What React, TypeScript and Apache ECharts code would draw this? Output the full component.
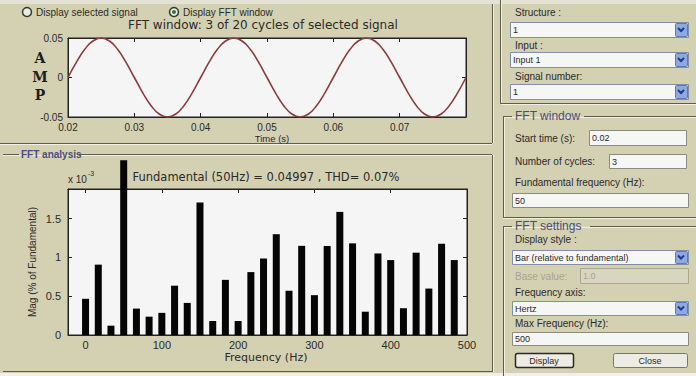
import React, { useEffect, useRef } from "react";
import * as echarts from "echarts";

// Time-domain signal (FFT window)
const timeS = [
  0.02, 0.02125, 0.0225, 0.02375, 0.025, 0.02625, 0.0275, 0.02875,
  0.03, 0.03125, 0.0325, 0.03375, 0.035, 0.03625, 0.0375, 0.03875,
  0.04, 0.04125, 0.0425, 0.04375, 0.045, 0.04625, 0.0475, 0.04875,
  0.05, 0.05125, 0.0525, 0.05375, 0.055, 0.05625, 0.0575, 0.05875,
  0.06, 0.06125, 0.0625, 0.06375, 0.065, 0.06625, 0.0675, 0.06875,
  0.07, 0.07125, 0.0725, 0.07375, 0.075, 0.07625, 0.0775, 0.07875, 0.08,
];
const ampValues = [
  0, 0.0191, 0.0354, 0.0462, 0.05, 0.0462, 0.0354, 0.0191,
  0, -0.0191, -0.0354, -0.0462, -0.05, -0.0462, -0.0354, -0.0191,
  0, 0.0191, 0.0354, 0.0462, 0.05, 0.0462, 0.0354, 0.0191,
  0, -0.0191, -0.0354, -0.0462, -0.05, -0.0462, -0.0354, -0.0191,
  0, 0.0191, 0.0354, 0.0462, 0.05, 0.0462, 0.0354, 0.0191,
  0, -0.0191, -0.0354, -0.0462, -0.05, -0.0462, -0.0354, -0.0191, 0,
];

// FFT spectrum bins (Hz) and magnitudes (x 10^-3, % of fundamental)
const freqHz = [
  0, 16.7, 33.3, 50, 66.7, 83.3, 100, 116.7, 133.3, 150,
  166.7, 183.3, 200, 216.7, 233.3, 250, 266.7, 283.3, 300, 316.7,
  333.3, 350, 366.7, 383.3, 400, 416.7, 433.3, 450, 466.7, 483.3,
];
const magPct = [
  0.466, 0.906, 0.12, 2.25, 0.34, 0.236, 0.285, 0.635, 0.413, 1.707,
  0.18, 0.71, 0.18, 0.81, 0.985, 1.298, 0.57, 1.148, 0.513, 1.146,
  1.585, 1.18, 0.3, 1.05, 0.965, 0.345, 1.06, 0.598, 1.175, 0.965,
];

const timeTicks = [0.02, 0.03, 0.04, 0.05, 0.06, 0.07];
const freqTicks = [0, 100, 200, 300, 400, 500];

const FONT = '"Liberation Sans", Arial, sans-serif';
const WIDE = '"DejaVu Sans", Verdana, sans-serif';
const BG = "#d4d1b3";
const DARK = "#5e5c4c";
const LIGHT = "#f2f0e4";

function txt(x: number, y: number, text: string, o: any = {}) {
  return {
    type: "text",
    x,
    y,
    rotation: o.rotation || 0,
    z: 10,
    style: {
      text,
      fill: o.fill || "#2a2a2a",
      font: o.font || `10px ${FONT}`,
      textAlign: o.align || "left",
      align: o.align || "left",
      textVerticalAlign: "middle",
      verticalAlign: "middle",
    },
  };
}
function hline(x1: number, x2: number, y: number, c = DARK) {
  return { type: "line", z: 5, shape: { x1, y1: y, x2, y2: y }, style: { stroke: c, lineWidth: 1 } };
}
function vline(x: number, y1: number, y2: number, c = DARK) {
  return { type: "line", z: 5, shape: { x1: x, y1, x2: x, y2 }, style: { stroke: c, lineWidth: 1 } };
}
function box(x: number, y: number, w: number, h: number, fill = "#f5f5f3", stroke = "#8f8f86", r = 0, lw = 1) {
  return { type: "rect", z: 5, shape: { x: x + 0.5, y: y + 0.5, width: w, height: h, r }, style: { fill, stroke, lineWidth: lw } };
}
function dropdown(x: number, y: number, w: number, h: number, label: string) {
  return [
    box(x, y, w, h, "#f6f6f4", "#7f8fa6"),
    txt(x + 3, y + h / 2 + 0.5, label, { font: `9px ${FONT}` }),
    box(x + w - 13, y + 1, 12, h - 2, "#8fa8e0", "#5d78bd", 1),
    {
      type: "polyline",
      z: 6,
      shape: { points: [[x + w - 10, y + h / 2 - 1.5], [x + w - 7, y + h / 2 + 1.5], [x + w - 4, y + h / 2 - 1.5]] },
      style: { stroke: "#1d3a8a", lineWidth: 2, fill: "none" },
    },
  ];
}
function textbox(x: number, y: number, w: number, h: number, label: string, grey = false) {
  return [
    box(x, y, w, h, grey ? "#d9d6c0" : "#f6f6f4", grey ? "#a9a793" : "#8a8a84"),
    txt(x + 3, y + h / 2 + 0.5, label, { font: `9px ${FONT}`, fill: grey ? "#a6a48f" : "#2a2a2a" }),
  ];
}

export default function App() {
  const ref = useRef<HTMLDivElement>(null);
  useEffect(() => {
    if (!ref.current) return;
    const chart = echarts.init(ref.current, undefined, { renderer: "svg" });
    const lineData = timeS.map((t, i) => [t, ampValues[i]]);
    const barData = freqHz.map((f, i) => [f, magPct[i]]);
    const axisLab = { fontSize: 11, color: "#2a2a2a", fontFamily: FONT };
    const tickIn = { show: true, inside: true, length: 4, lineStyle: { color: "#222" } };
    const axLine = { show: true, onZero: false, lineStyle: { color: "#222" } };

    const graphics: any[] = [
      // light strips top / bottom
      { type: "rect", z: 1, shape: { x: 0, y: 0, width: 696, height: 4 }, style: { fill: "#e4e2d4" } },
      { type: "rect", z: 1, shape: { x: 0, y: 373, width: 696, height: 3 }, style: { fill: "#f0efe8" } },
      // top panel frame
      hline(0, 492, 143.5),
      hline(0, 492, 144.5, LIGHT),
      vline(492.5, 4, 143),
      vline(493.5, 4, 143, LIGHT),
      // FFT analysis group box
      hline(3, 19, 154.5),
      hline(79, 492, 154.5),
      hline(3, 492, 155.5, LIGHT),
      vline(492.5, 155, 372),
      vline(493.5, 155, 372, LIGHT),
      hline(3, 492, 371.5),
      txt(21, 154, "FFT analysis", { font: `bold 10px ${FONT}`, fill: "#4a4d7c" }),
      // radio buttons
      { type: "circle", z: 6, shape: { cx: 27, cy: 12, r: 4.5 }, style: { fill: "#ecebe6", stroke: "#2f3a2f", lineWidth: 1.5 } },
      txt(36, 12, "Display selected signal", { font: `10px ${FONT}` }),
      { type: "circle", z: 6, shape: { cx: 174, cy: 12, r: 4.5 }, style: { fill: "#ecebe6", stroke: "#2f3a2f", lineWidth: 1.5 } },
      { type: "circle", z: 7, shape: { cx: 174, cy: 12, r: 2 }, style: { fill: "#2d7a3a" } },
      txt(183, 12, "Display FFT window", { font: `10px ${FONT}` }),
      // titles & axis names
      txt(263, 25, "FFT window: 3 of 20 cycles of selected signal", { align: "center", font: `12px ${WIDE}` }),
      txt(272, 138, "Time (s)", { align: "center", font: `9.5px ${FONT}` }),
      txt(40, 58, "A", { align: "center", font: `bold 14px "DejaVu Serif", serif`, fill: "#1e1e1e" }),
      txt(40, 77, "M", { align: "center", font: `bold 14px "DejaVu Serif", serif`, fill: "#1e1e1e" }),
      txt(40, 95, "P", { align: "center", font: `bold 14px "DejaVu Serif", serif`, fill: "#1e1e1e" }),
      txt(266, 177, "Fundamental (50Hz) = 0.04997 , THD= 0.07%", { align: "center", font: `11.5px ${WIDE}` }),
      txt(68, 179, "x 10", { font: `10px ${FONT}` }),
      txt(88, 173, "-3", { font: `7px ${FONT}` }),
      txt(266, 357, "Frequency (Hz)", { align: "center", font: `11px ${WIDE}` }),
      txt(32, 262, "Mag (% of Fundamental)", { align: "center", font: `10px ${FONT}`, rotation: Math.PI / 2 }),
      // right panel: signal selection
      vline(500.5, 0, 103),
      vline(501.5, 0, 103, LIGHT),
      hline(500, 696, 103.5),
      hline(501, 696, 104.5, LIGHT),
      txt(515, 12, "Structure :"),
      ...dropdown(510, 22, 178, 15, "1"),
      txt(515, 45, "Input :"),
      ...dropdown(510, 52, 178, 15, "Input 1"),
      txt(515, 76, "Signal number:"),
      ...dropdown(510, 84, 178, 15, "1"),
      // FFT window group
      hline(503, 512, 116.5),
      hline(584, 696, 116.5),
      hline(504, 696, 117.5, LIGHT),
      vline(503.5, 116, 217),
      vline(504.5, 117, 217, LIGHT),
      hline(503, 696, 217.5),
      hline(503, 696, 218.5, LIGHT),
      txt(515, 116, "FFT window", { font: `12px ${FONT}`, fill: "#4a4d7c" }),
      txt(515, 138, "Start time (s):"),
      ...textbox(589, 130, 97, 15, "0.02"),
      txt(515, 161, "Number of cycles:"),
      ...textbox(609, 154, 77, 14, "3"),
      txt(515, 182, "Fundamental frequency (Hz):"),
      ...textbox(512, 193, 176, 14, "50"),
      // FFT settings group
      hline(503, 512, 226.5),
      hline(590, 696, 226.5),
      hline(504, 696, 227.5, LIGHT),
      vline(503.5, 226, 376),
      vline(504.5, 227, 376, LIGHT),
      txt(515, 226, "FFT settings", { font: `12px ${FONT}`, fill: "#4a4d7c" }),
      txt(515, 239, "Display style :"),
      ...dropdown(512, 250, 176, 14, "Bar (relative to fundamental)"),
      txt(515, 276, "Base value:", { fill: "#a6a48f" }),
      ...textbox(580, 268, 108, 15, "1.0", true),
      txt(515, 292, "Frequency axis:"),
      ...dropdown(512, 301, 176, 14, "Hertz"),
      txt(515, 323, "Max Frequency (Hz):"),
      ...textbox(512, 332, 176, 13, "500"),
      box(515, 353, 58, 14, "#ecebe4", "#2a2a2a", 2, 1.5),
      txt(544, 360.5, "Display", { align: "center", font: `9px ${FONT}` }),
      box(613, 353, 74, 14, "#ecebe4", "#77766c", 2, 1),
      txt(650, 360.5, "Close", { align: "center", font: `9px ${FONT}` }),
    ];

    chart.setOption({
      animation: false,
      backgroundColor: BG,
      textStyle: { fontFamily: FONT },
      grid: [
        { left: 68, top: 38, width: 398, height: 79, show: true, backgroundColor: "#f5f5f5", borderColor: "#222", borderWidth: 1 },
        { left: 68, top: 189, width: 399, height: 146, show: true, backgroundColor: "#f5f5f5", borderColor: "#222", borderWidth: 1 },
      ],
      xAxis: [
        {
          type: "value", gridIndex: 0, position: "bottom", min: 0.02, max: 0.08, interval: 0.01,
          axisLine: axLine, axisTick: tickIn, splitLine: { show: false },
          axisLabel: {
            ...axisLab, fontSize: 10, margin: 5, showMaxLabel: false,
            formatter: (v: number) => (timeTicks.indexOf(+v.toFixed(2)) >= 0 ? v.toFixed(2) : ""),
          },
        },
        {
          type: "value", gridIndex: 0, position: "top", min: 0.02, max: 0.08, interval: 0.01,
          axisLine: axLine, axisTick: tickIn, axisLabel: { show: false }, splitLine: { show: false },
        },
        {
          type: "value", gridIndex: 1, position: "bottom", min: -23, max: 500,
          axisLine: axLine,
          axisTick: { ...tickIn, customValues: freqTicks }, splitLine: { show: false },
          axisLabel: { ...axisLab, margin: 4, customValues: freqTicks, formatter: (v: number) => String(Math.round(v)) },
        },
        {
          type: "value", gridIndex: 1, position: "top", min: -23, max: 500,
          axisLine: axLine,
          axisTick: { ...tickIn, customValues: freqTicks }, axisLabel: { show: false, customValues: freqTicks }, splitLine: { show: false },
        },
      ],
      yAxis: [
        {
          type: "value", gridIndex: 0, position: "left", min: -0.05, max: 0.05, interval: 0.05,
          axisLine: axLine, axisTick: tickIn, splitLine: { show: false },
          axisLabel: { ...axisLab, fontSize: 10, margin: 5, formatter: (v: number) => (Math.abs(v) < 1e-9 ? "0" : v.toFixed(2)) },
        },
        {
          type: "value", gridIndex: 0, position: "right", min: -0.05, max: 0.05, interval: 0.05,
          axisLine: axLine, axisTick: tickIn, axisLabel: { show: false }, splitLine: { show: false },
        },
        {
          type: "value", gridIndex: 1, position: "left", min: 0, max: 1.88, interval: 0.5,
          axisLine: axLine, axisTick: tickIn, splitLine: { show: false },
          axisLabel: {
            ...axisLab, margin: 7, showMaxLabel: false,
            formatter: (v: number) => (Math.abs(v * 2 - Math.round(v * 2)) < 1e-6 ? String(+v.toFixed(1)) : ""),
          },
        },
        {
          type: "value", gridIndex: 1, position: "right", min: 0, max: 1.88, interval: 0.5,
          axisLine: axLine, axisTick: tickIn, axisLabel: { show: false }, splitLine: { show: false },
        },
      ],
      series: [
        {
          type: "line", xAxisIndex: 0, yAxisIndex: 0, data: lineData, smooth: true, showSymbol: false,
          lineStyle: { color: "#8a3c3c", width: 1.6 },
        },
        {
          type: "bar", xAxisIndex: 2, yAxisIndex: 2, data: barData, barWidth: 7, clip: false,
          itemStyle: { color: "#050505" },
        },
      ],
      graphic: graphics,
    });
    return () => chart.dispose();
  }, []);
  return <div ref={ref} style={{ position: "absolute", left: 0, top: 0, width: 696, height: 376 }} />;
}
